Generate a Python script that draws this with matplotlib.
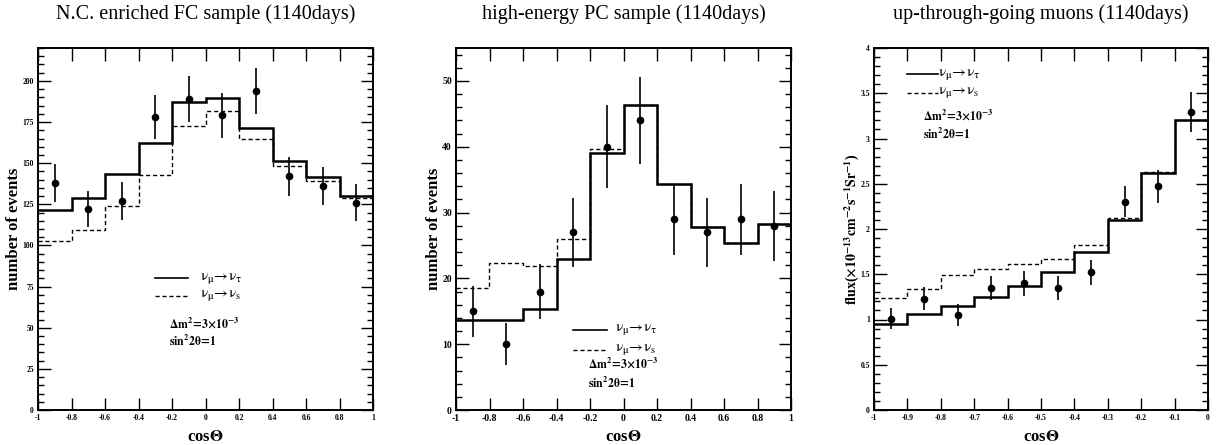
import numpy as np
import matplotlib
matplotlib.use("Agg")
import matplotlib.pyplot as plt
from matplotlib.ticker import MultipleLocator

plt.rcParams['font.family'] = ['Liberation Serif', 'DejaVu Serif']
plt.rcParams['mathtext.fontset'] = 'stix'

# ---------------- data ----------------
titles = ["N.C. enriched FC sample (1140days)",
          "high-energy PC sample (1140days)",
          "up-through-going muons (1140days)"]

# Panel 1: N.C. enriched FC sample
fc_edges = [-1.0, -0.8, -0.6, -0.4, -0.2, 0.0, 0.2, 0.4, 0.6, 0.8, 1.0]
fc_tau = [121.6, 128.7, 143.7, 162.3, 187.2, 189.9, 171.2, 151.6, 141.4, 130.3]
fc_s = [102.9, 109.2, 123.8, 142.9, 172.8, 181.8, 164.9, 148.1, 139.2, 128.9]
fc_x = [-0.9, -0.7, -0.5, -0.3, -0.1, 0.1, 0.3, 0.5, 0.7, 0.9]
fc_y = [138, 122, 127, 178, 189, 179, 194, 142, 136, 126]
fc_err = [11.7, 11.0, 11.3, 13.3, 13.7, 13.4, 13.9, 11.9, 11.7, 11.2]

# Panel 2: high-energy PC sample
pc_edges = [-1.0, -0.8, -0.6, -0.4, -0.2, 0.0, 0.2, 0.4, 0.6, 0.8, 1.0]
pc_tau = [13.6, 13.6, 15.3, 23.0, 39.0, 46.4, 34.4, 27.8, 25.4, 28.2]
pc_s = [18.6, 22.3, 21.9, 26.0, 39.6, 46.4, 34.4, 27.8, 25.4, 28.2]
pc_x = [-0.9, -0.7, -0.5, -0.3, -0.1, 0.1, 0.3, 0.5, 0.7, 0.9]
pc_y = [15, 10, 18, 27, 40, 44, 29, 27, 29, 28]
pc_err = [3.9, 3.2, 4.2, 5.2, 6.3, 6.6, 5.4, 5.2, 5.4, 5.3]

# Panel 3: up-through-going muons
up_edges = [-1.0, -0.9, -0.8, -0.7, -0.6, -0.5, -0.4, -0.3, -0.2, -0.1, 0.0]
up_tau = [0.95, 1.06, 1.15, 1.25, 1.37, 1.52, 1.75, 2.10, 2.62, 3.20]
up_s = [1.24, 1.34, 1.49, 1.56, 1.61, 1.67, 1.82, 2.12, 2.63, 3.20]
up_x = [-0.95, -0.85, -0.75, -0.65, -0.55, -0.45, -0.35, -0.25, -0.15, -0.05]
up_y = [1.01, 1.23, 1.05, 1.35, 1.40, 1.35, 1.52, 2.30, 2.47, 3.29]
up_err = [0.12, 0.13, 0.12, 0.13, 0.135, 0.13, 0.14, 0.17, 0.18, 0.22]

ylabels = ["number of events", "number of events",
           r"flux($\mathbf{\times 10^{-13}cm^{-2}s^{-1}Sr^{-1}}$)"]
xlabel = r"cos$\mathbf{\Theta}$"
lab_tau = r"$\mathrm{\nu_{\mu}\!\rightarrow\!\nu_{\tau}}$"
lab_s = r"$\mathrm{\nu_{\mu}\!\rightarrow\!\nu_{s}}$"
lab_dm = r"$\mathbf{\Delta m^{2}\!=\!3{\times}10^{-3}}$"
lab_sin = r"$\mathbf{sin^{2}2\theta\!=\!1}$"

# ---------------- figure ----------------
W, H = 1216, 445
fig = plt.figure(figsize=(W / 100, H / 100), dpi=100)

panels = [
    dict(rect=[38 / W, 1 - 410 / H, 335 / W, 362 / H], edges=fc_edges, tau=fc_tau, s=fc_s,
         x=fc_x, y=fc_y, err=fc_err, xlim=(-1, 1), ylim=(0, 220), xmaj=0.2, ymaj=25, ymin=5,
         tfs=5.5, ylfs=12, ylx=-0.072,
         leg=dict(lx=(0.349, 0.449), ly=(0.364, 0.316), tx=0.485,
                  dx=0.39, dy=0.24, sy=0.19, lfs=11, dfs=8.5)),
    dict(rect=[456 / W, 1 - 410 / H, 335 / W, 362 / H], edges=pc_edges, tau=pc_tau, s=pc_s,
         x=pc_x, y=pc_y, err=pc_err, xlim=(-1, 1), ylim=(0, 55), xmaj=0.2, ymaj=10, ymin=2,
         tfs=7, ylfs=12, ylx=-0.066,
         leg=dict(lx=(0.350, 0.450), ly=(0.222, 0.167), tx=0.475,
                  dx=0.395, dy=0.130, sy=0.074, lfs=11, dfs=8.5)),
    dict(rect=[874 / W, 1 - 410 / H, 334 / W, 362 / H], edges=up_edges, tau=up_tau, s=up_s,
         x=up_x, y=up_y, err=up_err, xlim=(-1, 0), ylim=(0, 4), xmaj=0.1, ymaj=0.5, ymin=0.1,
         tfs=5.5, ylfs=10, ylx=-0.066,
         leg=dict(lx=(0.10, 0.193), ly=(0.928, 0.877), tx=0.193,
                  dx=0.148, dy=0.815, sy=0.762, lfs=11, dfs=8.5)),
]

for i, p in enumerate(panels):
    ax = fig.add_axes(p["rect"])
    e = p["edges"]
    ax.stairs(p["s"], e, color="black", lw=1.0, ls=(0, (3, 2)), baseline=None)
    ax.stairs(p["tau"], e, color="black", lw=1.8, baseline=None)
    ax.errorbar(p["x"], p["y"], yerr=p["err"], fmt="o", color="black", ms=4.5,
                elinewidth=1.2, capsize=0)
    ax.set_xlim(*p["xlim"])
    ax.set_ylim(*p["ylim"])
    ax.xaxis.set_major_locator(MultipleLocator(p["xmaj"]))
    ax.yaxis.set_major_locator(MultipleLocator(p["ymaj"]))
    ax.yaxis.set_minor_locator(MultipleLocator(p["ymin"]))
    ax.tick_params(which="both", direction="in", top=True, right=True,
                   labelsize=p["tfs"], width=1.0, pad=3)
    ax.tick_params(which="major", length=9)
    ax.tick_params(which="minor", length=4.5)
    fmt = lambda v, pos: ("%g" % round(v, 3))
    ax.xaxis.set_major_formatter(plt.FuncFormatter(fmt))
    ax.yaxis.set_major_formatter(plt.FuncFormatter(fmt))
    for lbl in ax.get_xticklabels() + ax.get_yticklabels():
        lbl.set_fontweight("bold")
    for sp in ax.spines.values():
        sp.set_linewidth(1.4)
    ax.set_ylabel(ylabels[i], fontsize=p["ylfs"], fontweight="bold")
    ax.yaxis.set_label_coords(p["ylx"], 0.5)
    ax.yaxis.label.set_va("center")
    ax.set_xlabel(xlabel, fontsize=12, fontweight="bold")
    ax.xaxis.set_label_coords(0.5, -0.075)
    ax.xaxis.label.set_va("center")
    r = p["rect"]
    fig.text(r[0] + r[2] / 2, 1 - 14 / H, titles[i], fontsize=14.5,
             ha="center", va="center")

    L = p["leg"]
    ax.plot(L["lx"], [L["ly"][0]] * 2, color="black", lw=1.2, transform=ax.transAxes)
    ax.plot(L["lx"], [L["ly"][1]] * 2, color="black", lw=1.0, ls=(0, (3, 2)),
            transform=ax.transAxes)
    ax.text(L["tx"], L["ly"][0], lab_tau, transform=ax.transAxes, fontsize=L["lfs"],
            va="center", ha="left")
    ax.text(L["tx"], L["ly"][1], lab_s, transform=ax.transAxes, fontsize=L["lfs"],
            va="center", ha="left")
    ax.text(L["dx"], L["dy"], lab_dm, transform=ax.transAxes, fontsize=L["dfs"],
            va="center", ha="left")
    ax.text(L["dx"], L["sy"], lab_sin, transform=ax.transAxes, fontsize=L["dfs"],
            va="center", ha="left")

fig.savefig("out.png", dpi=100)
